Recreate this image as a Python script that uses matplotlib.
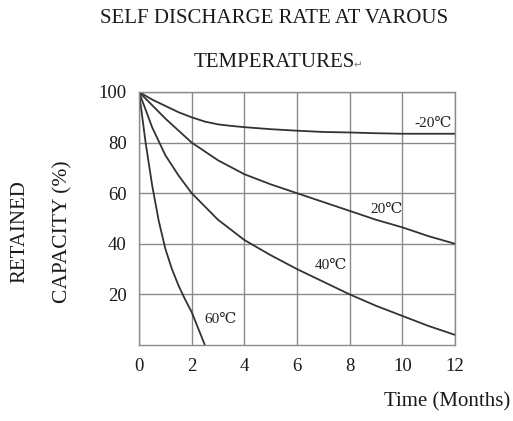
import matplotlib.pyplot as plt

# values
months_m20 = [0, 0.5, 1, 1.5, 2, 2.5, 3, 3.5, 4, 5, 6, 7, 8, 9, 10, 11, 12]
cap_m20 = [100, 97, 94.5, 92, 90, 88.3, 87.2, 86.6, 86.1, 85.3, 84.7, 84.2, 84, 83.7, 83.5, 83.5, 83.5]

months_20 = [0, 1, 2, 3, 4, 5, 6, 7, 8, 9, 10, 11, 12]
cap_20 = [100, 89.5, 80, 73, 67.5, 63.5, 60, 56.5, 53, 49.5, 46.5, 43, 40]

months_40 = [0, 0.5, 1, 1.5, 2, 3, 4, 5, 6, 7, 8, 9, 10, 11, 12]
cap_40 = [100, 86, 75, 67, 60, 49.5, 41.5, 35.5, 30, 25, 20, 15.5, 11.5, 7.5, 4]

months_60 = [0, 0.25, 0.5, 0.75, 1, 1.25, 1.5, 1.75, 2, 2.25, 2.5]
cap_60 = [100, 80, 63, 49, 38, 30, 23.5, 18, 13, 6.5, 0]

labels = ['-20℃', '20℃', '40℃', '60℃']
label_pos = [(11.15, 87.5), (9.4, 53.5), (7.3, 31.5), (3.1, 10)]

x_ticks = [0, 2, 4, 6, 8, 10, 12]
y_ticks = [20, 40, 60, 80, 100]

serif = ['Liberation Serif', 'DejaVu Serif']
plt.rcParams['font.family'] = serif

fig = plt.figure(figsize=(5.13, 4.21), dpi=100)
ax = fig.add_axes([0.271, 0.1805, 0.616, 0.601])

line_col = '#333333'
for xs, ys in [(months_m20, cap_m20), (months_20, cap_20),
               (months_40, cap_40), (months_60, cap_60)]:
    ax.plot(xs, ys, color=line_col, linewidth=1.3, solid_capstyle='round')

for txt, (lx, ly) in zip(labels, label_pos):
    ax.text(lx, ly, txt, fontsize=11, ha='center', va='center', color='#222222')

ax.set_xlim(0, 12)
ax.set_ylim(0, 100)
ax.set_xticks(x_ticks)
ax.set_yticks(y_ticks)
ax.tick_params(length=0, labelsize=13.5, pad=9, colors='#1a1a1a')
ax.grid(True, color='#8a8a8a', linewidth=1.0)
for s in ax.spines.values():
    s.set_color('#8a8a8a')
    s.set_linewidth(1.0)

txt_col = '#1a1a1a'
fig.text(0.534, 0.957, 'SELF DISCHARGE RATE AT VAROUS', ha='center', va='center', fontsize=15, color=txt_col)
fig.text(0.534, 0.852, 'TEMPERATURES', ha='center', va='center', fontsize=15, color=txt_col)
fig.text(0.689, 0.846, '↵', ha='left', va='center', fontsize=7.5, color='#777777',
         family=['DejaVu Sans'])
fig.text(0.039, 0.45, 'RETAINED', rotation=90, ha='center', va='center', fontsize=15, color=txt_col)
fig.text(0.123, 0.45, 'CAPACITY (%)', rotation=90, ha='center', va='center', fontsize=15.5, color=txt_col)
fig.text(0.872, 0.045, 'Time (Months)', ha='center', va='center', fontsize=15, color=txt_col)

fig.savefig('out.png', dpi=100)
